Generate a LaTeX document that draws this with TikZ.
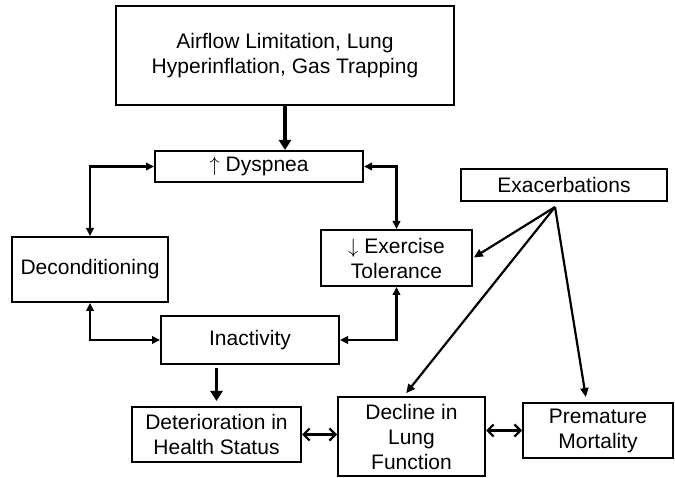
\documentclass[tikz,border=0pt]{standalone}
\usepackage{fontspec}
\setmainfont{Liberation Sans}
\usetikzlibrary{arrows.meta}
\begin{document}
\begin{tikzpicture}[x=1pt,y=-1pt,
  box/.style={draw, line width=2pt, align=center, inner sep=0pt,
    font=\fontsize{21pt}{25pt}\selectfont},
  link/.style={line width=2.2pt, {Triangle[length=8pt,width=7.5pt]}-{Triangle[length=8pt,width=7.5pt]}},
  heavy/.style={line width=3.6pt, -{Triangle[length=10pt,width=12pt]}},
  spoke/.style={line width=2.2pt, -{Triangle[length=9pt,width=8pt]}, shorten >=1pt},
  pair/.style={line width=2.2pt, {Straight Barb[length=6pt,width=12pt,line width=2.2pt]}-{Straight Barb[length=6pt,width=12pt,line width=2.2pt]}}]
\useasboundingbox (0,0) rectangle (675,478);

% boxes
\node[box, minimum width=338pt, minimum height=99pt] (top) at (285,55.5)
  {Airflow Limitation, Lung\\Hyperinflation, Gas Trapping};
\node[box, minimum width=208pt, minimum height=31pt] (dys) at (259,166.5) {$\uparrow$ Dyspnea};
\node[box, minimum width=206pt, minimum height=32pt] (exac) at (564,185) {Exacerbations};
\node[box, minimum width=156pt, minimum height=65pt] (decond) at (90,269.5) {Deconditioning};
\node[box, minimum width=151pt, minimum height=56pt] (exer) at (396.5,258) {$\downarrow$ Exercise\\Tolerance};
\node[box, minimum width=178pt, minimum height=48pt] (inact) at (250,340) {Inactivity};
\node[box, minimum width=169pt, minimum height=55pt] (deter) at (216.5,434.5) {Deterioration in\\Health Status};
\node[box, minimum width=147pt, minimum height=79pt] (decl) at (411.5,436.5) {Decline in\\Lung\\Function};
\node[box, minimum width=150pt, minimum height=55pt] (prem) at (598,430.5) {Premature\\Mortality};

% main chain
\draw[heavy] (top.south) -- (top.south |- dys.north);
\draw[heavy] ([yshift=-3pt]inact.south -| deter.north) -- ([yshift=5pt]deter.north);

% feedback loop
\draw[link] (dys.west) -| (decond.north);
\draw[link] (decond.south) |- (inact.west);
\draw[link] (dys.east) -| (exer.north);
\draw[link] (exer.south) |- (inact.east);

% exacerbation effects
\coordinate (apex) at ([xshift=-9pt,yshift=-5pt]exac.south);
\draw[spoke] (apex) -- (exer.east);
\draw[spoke] (apex) -- ([xshift=-6pt,yshift=2pt]decl.north);
\draw[spoke] (apex) -- ([xshift=-12pt,yshift=4pt]prem.north);

% outcome links
\draw[pair] (deter.east) -- (deter.east -| decl.west);
\draw[pair] (prem.west -| decl.east) -- (prem.west);
\end{tikzpicture}
\end{document}
